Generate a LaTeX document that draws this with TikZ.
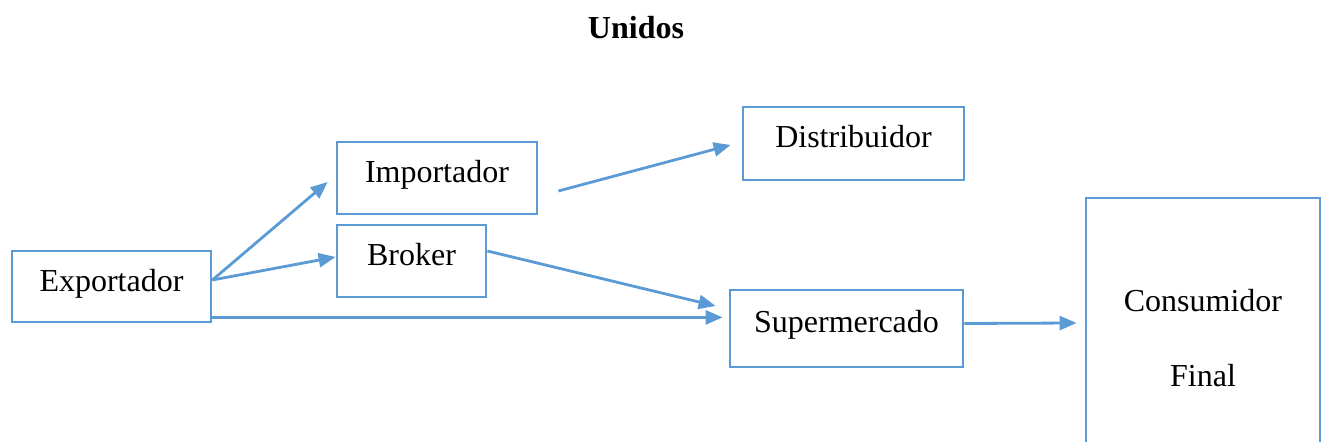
\documentclass[tikz,border=0pt]{standalone}
\usepackage{fontspec}
\setmainfont{Liberation Serif}
\usetikzlibrary{arrows.meta,calc}
\definecolor{lineblue}{HTML}{5B9BD5}
\begin{document}
\begin{tikzpicture}[x=0.5pt,y=-0.5pt,
  box/.style={draw=lineblue,line width=1.4pt,inner sep=0pt,font=\fontsize{16}{19}\selectfont,text=black},
  conn/.style={draw=lineblue,line width=1.4pt,-{Triangle[length=8.5pt,width=7pt]}}]
\useasboundingbox (0,0) rectangle (1323,442);
\clip (0,0) rectangle (1323,442);
\node[font=\fontsize{16}{19}\selectfont\bfseries] (title) at (636,28) {Unidos};
\node[box,minimum width=99.5pt,minimum height=35.5pt,text height=20.5pt,text depth=15pt] (exp) at (111.5,286.5) {Exportador};
\node[box,minimum width=100pt,minimum height=36pt,text height=20.5pt,text depth=15.5pt] (imp) at (437,178) {Importador};
\node[box,minimum width=74.5pt,minimum height=36pt,text height=20.5pt,text depth=15.5pt] (brk) at (411.5,261) {Broker};
\node[box,minimum width=110.5pt,minimum height=36.5pt,text height=20.5pt,text depth=16pt] (dist) at (853.5,143.5) {Distribuidor};
\node[box,minimum width=116.5pt,minimum height=38.5pt,text height=21.5pt,text depth=17pt] (sup) at (846.5,328.5) {Supermercado};
\node[box,minimum width=117pt,minimum height=140pt,align=center] (cons) at (1203,338) {Consumidor\\[18.5pt]Final};
\coordinate (e1) at ($(exp.east)+(0,-6.5)$);
\draw[conn] (e1) -- ($(imp.west)+(-8,4)$);
\draw[conn] (e1) -- ($(brk.west)+(0,-4)$);
\coordinate (e2) at ($(exp.south east)+(0,-6)$);
\coordinate (s2) at ($(sup.west)+(-6,-12.5)$);
\draw[conn] (e2) -- (e2 -| s2);
\draw[conn] ($(brk.east)+(0,-10)$) -- ($(sup.west)+(-13,-22.5)$);
\draw[conn] ($(imp.east)+(20,13)$) -- ($(dist.west)+(-11,1.5)$);
\draw[conn] ($(sup.east)+(0,-5)$) -- ($(cons.west)+(-8,-15)$);
\end{tikzpicture}
\end{document}
